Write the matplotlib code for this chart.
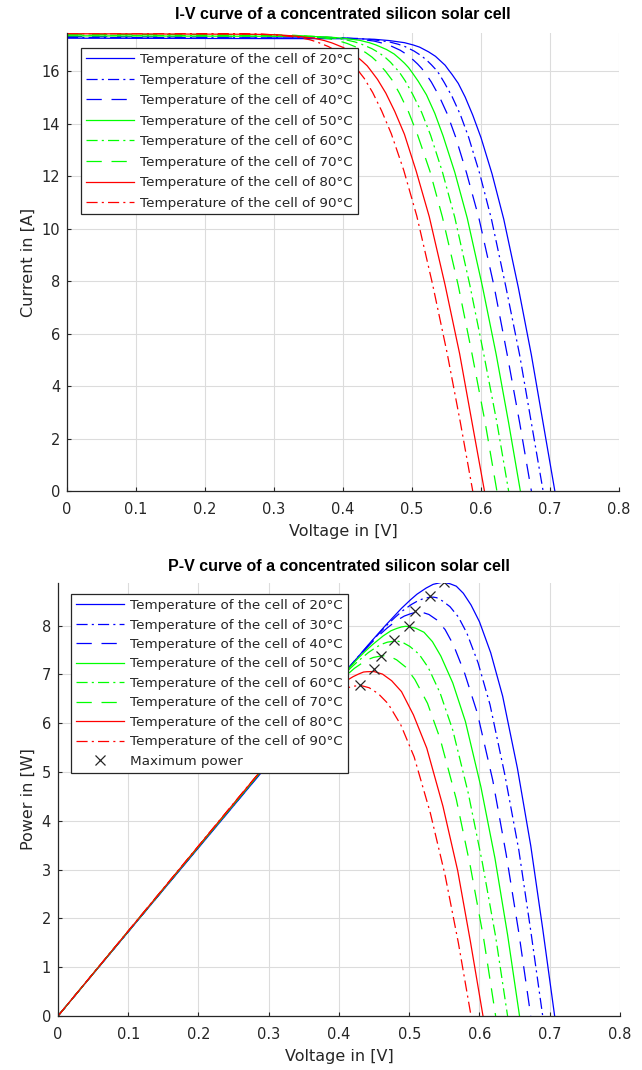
""" I-V and P-V curves of a concentrated silicon solar cell for several cell temperatures """
import numpy as np
import matplotlib as mat
mat.use('agg')
import matplotlib.pyplot as plt

plt.rcParams['font.family'] = ['DejaVu Sans']
plt.rcParams['lines.scale_dashes'] = False

#cell temperatures in degC
temperatures = [20, 30, 40, 50, 60, 70, 80, 90]

#I-V points, voltage in V and current in A
v_20 = [0, 0.417, 0.445, 0.467, 0.489, 0.502, 0.511, 0.524, 0.534, 0.541, 0.548, 0.553, 0.558, 0.567,
        0.577, 0.588, 0.600, 0.616, 0.633, 0.654, 0.673, 0.690, 0.707]
i_20 = [17.25, 17.23, 17.21, 17.16, 17.08, 16.99, 16.91, 16.73, 16.56, 16.39, 16.22, 16.04, 15.87, 15.53,
        15.01, 14.32, 13.46, 12.08, 10.35, 7.76, 5.18, 2.59, 0]
v_30 = [0, 0.393, 0.422, 0.444, 0.467, 0.480, 0.490, 0.503, 0.513, 0.521, 0.528, 0.534, 0.539, 0.547,
        0.558, 0.570, 0.582, 0.598, 0.615, 0.636, 0.656, 0.673, 0.690]
i_30 = [17.28, 17.26, 17.24, 17.19, 17.11, 17.02, 16.93, 16.76, 16.59, 16.42, 16.24, 16.07, 15.90, 15.55,
        15.03, 14.34, 13.48, 12.10, 10.37, 7.78, 5.18, 2.59, 0]
v_40 = [0, 0.368, 0.399, 0.422, 0.445, 0.459, 0.469, 0.483, 0.493, 0.501, 0.508, 0.514, 0.519, 0.528,
        0.539, 0.551, 0.563, 0.579, 0.597, 0.619, 0.638, 0.656, 0.673]
i_40 = [17.31, 17.29, 17.27, 17.22, 17.14, 17.05, 16.96, 16.79, 16.62, 16.44, 16.27, 16.10, 15.93, 15.58,
        15.06, 14.37, 13.50, 12.12, 10.39, 7.79, 5.19, 2.60, 0]
v_50 = [0, 0.345, 0.376, 0.400, 0.424, 0.438, 0.448, 0.463, 0.474, 0.482, 0.489, 0.495, 0.500, 0.509,
        0.521, 0.533, 0.545, 0.562, 0.580, 0.602, 0.622, 0.640, 0.657]
i_50 = [17.34, 17.32, 17.30, 17.25, 17.17, 17.08, 16.99, 16.82, 16.65, 16.47, 16.30, 16.13, 15.95, 15.61,
        15.09, 14.39, 13.53, 12.14, 10.40, 7.80, 5.20, 2.60, 0]
v_60 = [0, 0.321, 0.353, 0.378, 0.402, 0.417, 0.427, 0.442, 0.453, 0.462, 0.469, 0.475, 0.481, 0.490,
        0.501, 0.514, 0.527, 0.544, 0.562, 0.584, 0.604, 0.623, 0.640]
i_60 = [17.37, 17.35, 17.33, 17.28, 17.20, 17.11, 17.02, 16.85, 16.68, 16.50, 16.33, 16.15, 15.98, 15.63,
        15.11, 14.42, 13.55, 12.16, 10.42, 7.82, 5.21, 2.61, 0]
v_70 = [0, 0.296, 0.330, 0.355, 0.380, 0.395, 0.406, 0.422, 0.433, 0.442, 0.449, 0.455, 0.461, 0.471,
        0.482, 0.495, 0.508, 0.526, 0.544, 0.567, 0.587, 0.606, 0.623]
i_70 = [17.40, 17.38, 17.36, 17.31, 17.23, 17.14, 17.05, 16.88, 16.70, 16.53, 16.36, 16.18, 16.01, 15.66,
        15.14, 14.44, 13.57, 12.18, 10.44, 7.83, 5.22, 2.61, 0]
v_80 = [0, 0.271, 0.305, 0.331, 0.358, 0.373, 0.384, 0.400, 0.411, 0.420, 0.428, 0.435, 0.440, 0.450,
        0.462, 0.475, 0.489, 0.506, 0.525, 0.548, 0.569, 0.587, 0.605]
i_80 = [17.42, 17.40, 17.38, 17.33, 17.25, 17.16, 17.07, 16.90, 16.72, 16.55, 16.37, 16.20, 16.03, 15.68,
        15.16, 14.46, 13.59, 12.19, 10.45, 7.84, 5.23, 2.61, 0]
v_90 = [0, 0.247, 0.282, 0.309, 0.336, 0.352, 0.363, 0.379, 0.391, 0.400, 0.408, 0.415, 0.421, 0.431,
        0.443, 0.456, 0.470, 0.488, 0.507, 0.530, 0.551, 0.570, 0.588]
i_90 = [17.45, 17.43, 17.41, 17.36, 17.28, 17.19, 17.10, 16.93, 16.75, 16.58, 16.40, 16.23, 16.05, 15.71,
        15.18, 14.48, 13.61, 12.22, 10.47, 7.85, 5.24, 2.62, 0]

#maximum power points
v_mpp = [0.550, 0.529, 0.508, 0.500, 0.479, 0.460, 0.450, 0.430]
p_mpp = [8.89, 8.61, 8.29, 8.00, 7.70, 7.38, 7.10, 6.78]

voltages = [v_20, v_30, v_40, v_50, v_60, v_70, v_80, v_90]
currents = [i_20, i_30, i_40, i_50, i_60, i_70, i_80, i_90]

DASHED = (0, (11, 7))
DASHDOT = (0, (8, 3, 1.5, 3))
colors = ['#0000ff', '#0000ff', '#0000ff', '#00ff00', '#00ff00', '#00ff00', '#ff0000', '#ff0000']
styles = ['-', DASHDOT, DASHED, '-', DASHDOT, DASHED, '-', DASHDOT]
AXCOL = '#262626'


def style_axes(ax):
    """ octave like look: grid, ticks inside, no box """
    ax.grid(True, color='#dcdcdc', linewidth=0.8)
    ax.set_axisbelow(True)
    for side in ['top', 'right']:
        ax.spines[side].set_visible(False)
    for side in ['left', 'bottom']:
        ax.spines[side].set_color(AXCOL)
        ax.spines[side].set_linewidth(0.9)
    ax.tick_params(direction='in', length=3, colors=AXCOL, labelsize=10.5)
    ax.tick_params(axis='x', pad=8)
    ax.tick_params(axis='y', pad=5)
    ax.set_xlim(0, 0.8)
    ax.set_xticks(np.arange(0, 0.81, 0.1))
    ax.set_xticklabels(['0', '0.1', '0.2', '0.3', '0.4', '0.5', '0.6', '0.7', '0.8'])
    ax.set_xlabel('Voltage in [V]', fontsize=11.5, color=AXCOL, labelpad=5)


fig = plt.figure(figsize=(6.42, 10.70), dpi=100)
ax1 = fig.add_axes([0.1044, 0.5411, 0.8598, 0.4281])
ax2 = fig.add_axes([0.0903, 0.0505, 0.8754, 0.4046])

for t, v, i, c, s in zip(temperatures, voltages, currents, colors, styles):
    label = 'Temperature of the cell of %d°C' % t
    ax1.plot(v, i, color=c, linestyle=s, linewidth=0.9, label=label)
    power = np.array(v) * np.array(i)
    ax2.plot(v, power, color=c, linestyle=s, linewidth=0.9, label=label)

ax2.plot(v_mpp, p_mpp, 'x', color='#262626', markersize=7, markeredgewidth=0.9,
         linestyle='none', label='Maximum power')

style_axes(ax1)
ax1.set_ylim(0, 17.45)
ax1.set_yticks(range(0, 17, 2))
ax1.set_ylabel('Current in [A]', fontsize=11.5, color=AXCOL)
ax1.set_title('I-V curve of a concentrated silicon solar cell', fontsize=11.5,
              fontweight='bold', family='Liberation Sans', pad=10)

style_axes(ax2)
ax2.set_ylim(0, 8.87)
ax2.set_yticks(range(0, 9))
ax2.set_ylabel('Power in [W]', fontsize=11.5, color=AXCOL)
ax2.set_title('P-V curve of a concentrated silicon solar cell', fontsize=11.5,
              fontweight='bold', family='Liberation Sans', pad=9)

for ax, anchor, spacing in [(ax1, (0.0254, 0.9666), 0.56), (ax2, (0.0231, 0.9739), 0.48)]:
    leg = ax.legend(loc='upper left', bbox_to_anchor=anchor, fontsize=9.7,
                    frameon=True, fancybox=False, framealpha=1, edgecolor=AXCOL,
                    handlelength=3.6, handletextpad=0.45, labelspacing=spacing,
                    borderpad=0.35, borderaxespad=0)
    leg.get_frame().set_linewidth(0.9)
    for txt in leg.get_texts():
        txt.set_color(AXCOL)

fig.savefig('out.png', dpi=100)
